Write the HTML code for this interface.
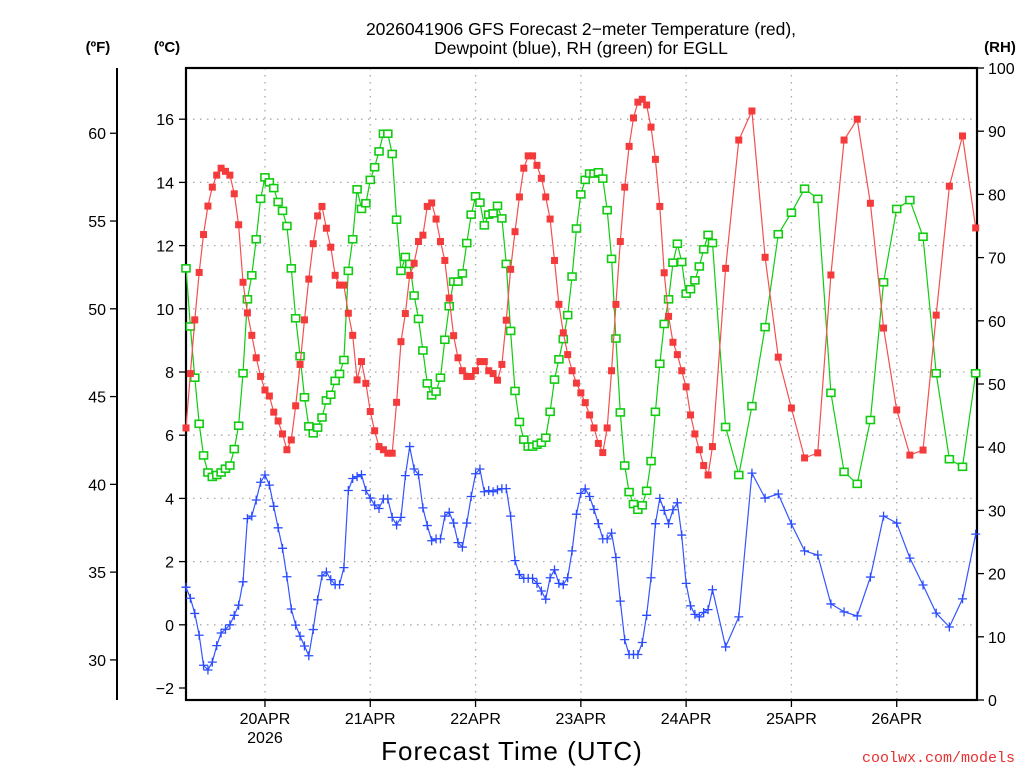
<!DOCTYPE html>
<html><head><meta charset="utf-8"><title>GFS Forecast EGLL</title>
<style>
html,body{margin:0;padding:0;background:#fff;width:1024px;height:768px;overflow:hidden}
svg{display:block}
text{font-family:"Liberation Sans",sans-serif;fill:#000}
</style></head>
<body>
<svg id="chart" width="1024" height="768" viewBox="0 0 1024 768" xmlns="http://www.w3.org/2000/svg">
<g id="grid"></g>
<g id="axes"></g>
<g id="series"></g>
<text x="581" y="35" text-anchor="middle" font-size="17.5">2026041906 GFS Forecast 2−meter Temperature (red),</text>
<text x="581" y="54" text-anchor="middle" font-size="17.5">Dewpoint (blue), RH (green) for EGLL</text>
<text x="98" y="52" text-anchor="middle" font-size="15" font-weight="bold">(ºF)</text>
<text x="167" y="52" text-anchor="middle" font-size="15" font-weight="bold">(ºC)</text>
<text x="1000" y="52" text-anchor="middle" font-size="15" font-weight="bold">(RH)</text>
<text x="512" y="760" text-anchor="middle" font-size="26" letter-spacing="1">Forecast Time (UTC)</text>
<text x="1015" y="762" text-anchor="end" font-size="15" style="fill:#e83030;font-family:'Liberation Mono',monospace">coolwx.com/models</text>
</svg>
<script>
const hours=[0,1,2,3,4,5,6,7,8,9,10,11,12,13,14,15,16,17,18,19,20,21,22,23,24,25,26,27,28,29,30,31,32,33,34,35,36,37,38,39,40,41,42,43,44,45,46,47,48,49,50,51,52,53,54,55,56,57,58,59,60,61,62,63,64,65,66,67,68,69,70,71,72,73,74,75,76,77,78,79,80,81,82,83,84,85,86,87,88,89,90,91,92,93,94,95,96,97,98,99,100,101,102,103,104,105,106,107,108,109,110,111,112,113,114,115,116,117,118,119,120,123,126,129,132,135,138,141,144,147,150,153,156,159,162,165,168,171,174,177,180];
const tempC=[6.23,7.95,9.65,11.15,12.35,13.25,13.85,14.23,14.45,14.35,14.23,13.64,12.66,10.84,9.87,9.16,8.45,7.86,7.43,7.24,6.73,6.45,6.04,5.54,5.85,6.93,8.24,9.65,10.94,12.06,12.94,13.24,12.55,11.95,11.06,10.75,10.75,9.86,9.16,7.75,8.33,7.64,6.75,6.14,5.64,5.54,5.43,5.43,7.04,8.96,9.85,11.06,11.44,12.13,12.33,13.24,13.35,12.84,12.13,11.53,10.34,9.15,8.45,8.04,7.86,7.86,8.04,8.33,8.33,8.04,7.95,7.74,8.24,9.64,11.25,12.44,13.54,14.45,14.84,14.84,14.54,14.13,13.54,12.84,11.53,10.14,9.24,8.55,8.04,7.65,7.34,7.03,6.64,6.23,5.74,5.45,6.23,8.04,10.14,12.13,13.85,15.14,16.04,16.54,16.63,16.45,15.75,14.73,13.24,11.14,9.76,8.94,8.55,8.04,7.53,6.64,6.04,5.54,5.04,4.74,5.64,11.28,15.34,16.26,11.63,8.47,6.86,5.28,5.44,11.07,15.34,16.0,13.34,9.39,6.8,5.37,5.53,9.8,13.88,15.47,12.56];
const dewC=[1.19,0.84,0.36,-0.33,-1.28,-1.43,-1.18,-0.66,-0.26,-0.14,0.0,0.3,0.62,1.36,3.36,3.44,3.95,4.51,4.74,4.42,3.75,3.07,2.42,1.52,0.5,-0.01,-0.36,-0.67,-0.98,-0.15,0.79,1.55,1.67,1.43,1.27,1.27,1.81,4.25,4.63,4.69,4.75,4.25,4.01,3.79,3.68,3.98,3.98,3.4,3.16,3.4,4.72,5.64,4.93,4.75,3.7,3.14,2.66,2.72,2.72,3.44,3.56,3.22,2.6,2.46,3.22,4.06,4.78,4.93,4.21,4.25,4.21,4.27,4.31,4.31,3.44,2.03,1.59,1.47,1.47,1.47,1.31,1.07,0.81,1.49,1.74,1.31,1.27,1.49,2.34,3.5,4.16,4.3,4.06,3.65,3.2,2.72,2.72,2.9,2.13,0.75,-0.47,-0.94,-0.94,-0.94,-0.56,0.3,1.49,3.2,4.0,3.62,3.2,3.64,3.86,2.84,1.31,0.6,0.33,0.25,0.39,0.48,1.11,-0.7,0.25,4.8,4.01,4.14,3.19,2.34,2.21,0.66,0.41,0.28,1.51,3.44,3.22,2.11,1.26,0.37,-0.07,0.82,2.87];
const rhPct=[68.3,59.1,51.0,43.7,38.7,36.0,35.3,35.6,36.0,36.6,37.1,39.7,43.4,51.7,63.4,67.2,72.9,79.3,82.7,81.9,81.0,78.8,77.4,75.0,68.3,60.4,54.4,47.9,43.3,42.2,43.1,44.7,47.4,48.3,50.5,51.6,53.8,67.9,72.9,80.8,77.7,78.6,82.3,84.3,86.8,89.6,89.6,86.4,76.0,67.9,70.1,69.0,64.0,60.3,55.3,50.1,48.2,48.8,51.0,57.0,62.3,66.2,66.2,67.5,72.3,76.8,79.7,78.7,75.1,76.8,77.0,78.2,76.2,69.0,58.4,48.9,44.0,41.2,40.1,40.1,40.4,40.7,41.5,45.6,50.7,53.9,57.1,60.9,67.0,74.6,80.0,82.3,83.3,83.3,83.5,82.5,77.5,69.8,57.2,45.5,37.1,32.9,31.0,30.1,30.8,33.1,37.8,45.6,53.2,59.5,63.4,69.2,72.2,69.3,64.3,65.0,66.4,68.6,71.3,73.6,72.3,43.2,35.6,46.5,59.0,73.7,77.1,80.9,79.3,48.6,36.1,34.2,44.3,66.1,77.7,79.1,73.3,51.7,38.1,36.9,51.7];
const cTicks=[-2,0,2,4,6,8,10,12,14,16];
const fTicks=[30,35,40,45,50,55,60];
const rhTicks=[0,10,20,30,40,50,60,70,80,90,100];
const dayLabels=["20APR","21APR","22APR","23APR","24APR","25APR","26APR"];
const dayHours=[18,42,66,90,114,138,162];

const NS="http://www.w3.org/2000/svg";
const L=186,R=977,T=68,B=700;
const xS=h=>L+h*(R-L)/180.3;
const yC=c=>624.8-c*31.6;
const yF=f=>yC((f-32)*5/9);
const yRH=r=>B-r*(B-T)/100;
function mk(tag,attrs,parent){const e=document.createElementNS(NS,tag);for(const k in attrs)e.setAttribute(k,attrs[k]);parent.appendChild(e);return e;}
const grid=document.getElementById('grid'),axes=document.getElementById('axes'),ser=document.getElementById('series');

cTicks.forEach(c=>{const y=yC(c);
 if(c>-2){const g=mk('line',{x1:L,x2:R,y1:y,y2:y,stroke:'#aaa','stroke-width':1.3,'stroke-dasharray':'1.5 5.5'},grid);
 
 }
 const t=mk('line',{x1:L-7,x2:L,y1:y,y2:y,stroke:'#000','stroke-width':1.3},axes);
 
 
 const lb=mk('text',{x:L-12,y:y+6,'text-anchor':'end','font-size':16},axes);lb.textContent=c<0?'−'+Math.abs(c):String(c);
 
 
});
dayHours.forEach((h,i)=>{const x=xS(h);
 const g=mk('line',{x1:x,x2:x,y1:T,y2:B,stroke:'#aaa','stroke-width':1.3,'stroke-dasharray':'1.5 5.5'},grid);
 
 
 const t=mk('line',{x1:x,x2:x,y1:B,y2:B+7,stroke:'#000','stroke-width':1.3},axes);
 
 
 const lb=mk('text',{x:x,y:B+24,'text-anchor':'middle','font-size':16},axes);lb.textContent=dayLabels[i];
 
 
 if(i===0){const y2=mk('text',{x:x,y:B+43,'text-anchor':'middle','font-size':16},axes);y2.textContent='2026';
 
 }
});
fTicks.forEach(f=>{const y=yF(f);
 const t=mk('line',{x1:110,x2:117,y1:y,y2:y,stroke:'#000','stroke-width':1.3},axes);
 
 
 const lb=mk('text',{x:106,y:y+6,'text-anchor':'end','font-size':16},axes);lb.textContent=String(f);
 
 
});
rhTicks.forEach(r=>{const y=yRH(r);
 const t=mk('line',{x1:R,x2:R+7,y1:y,y2:y,stroke:'#000','stroke-width':1.3},axes);
 
 
 const lb=mk('text',{x:R+11,y:y+6,'text-anchor':'start','font-size':16},axes);lb.textContent=String(r);
 
 
});
const fl=mk('line',{x1:117,x2:117,y1:T,y2:B,stroke:'#000','stroke-width':2},axes);


const fr=mk('rect',{x:L,y:T,width:R-L,height:B-T,fill:'none',stroke:'#000','stroke-width':2.2},axes);



function series(vals,yf,color,lineColor,kind,name){
 const g=mk('g',{},ser);
 
 
 const pts=hours.map((h,i)=>xS(h).toFixed(1)+','+yf(vals[i]).toFixed(1)).join(' ');
 const pl=mk('polyline',{points:pts,fill:'none',stroke:lineColor,'stroke-width':1.2},g);
 
 
 hours.forEach((h,i)=>{const x=xS(h),y=yf(vals[i]);let m;
  if(kind==='fill'){m=mk('rect',{x:x-3.5,y:y-3.5,width:7,height:7,fill:color},g);}
  else if(kind==='open'){m=mk('rect',{x:x-4,y:y-3.5,width:8,height:7,fill:'#fff',stroke:color,'stroke-width':1.6},g);}
  else{m=mk('path',{d:`M${x-4.5},${y}H${x+4.5}M${x},${y-4.5}V${y+4.5}`,stroke:color,'stroke-width':1.3,fill:'none'},g);}
  
  
 });
}
series(rhPct,yRH,'#11cc11','#11cc11','open','rh-series');
series(dewC,yC,'#2a4bff','#3355ff','plus','dewpoint-series');
series(tempC,yC,'#f43a3a','#f45050','fill','temperature-series');
</script>
</body></html>
